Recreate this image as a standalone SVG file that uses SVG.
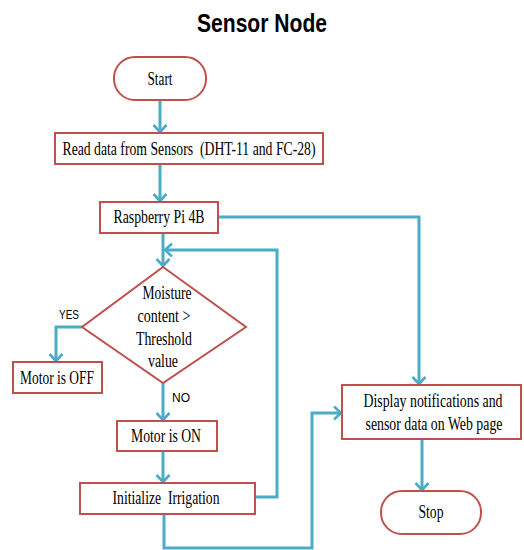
<svg xmlns="http://www.w3.org/2000/svg" width="524" height="550" viewBox="0 0 524 550">
<defs>
<marker id="arr" markerUnits="userSpaceOnUse" markerWidth="16" markerHeight="16" refX="9" refY="8" orient="auto">
<path d="M2,1.5 L9,8 L2,14.5" fill="none" stroke="#4bacc6" stroke-width="2.6"/>
</marker>
<style>
.box{fill:#fff;stroke:#c0504d;stroke-width:2}
.t{font-family:"Liberation Serif","Times New Roman",serif;font-size:18px;fill:#000;text-anchor:middle;white-space:pre}
.lbl{font-family:"Liberation Sans",Arial,sans-serif;font-size:13px;fill:#000}
.ca{fill:none;stroke:#4bacc6;stroke-width:3;marker-end:url(#arr)}
</style>
</defs>
<rect width="524" height="550" fill="#fff"/>
<text x="262" y="32" font-family="'Liberation Sans',Arial,sans-serif" font-weight="bold" font-size="25" text-anchor="middle" textLength="130" lengthAdjust="spacingAndGlyphs">Sensor Node</text>

<g id="connectors">
<path class="ca" d="M160,100 V132"/>
<path class="ca" d="M160,164 V201"/>
<path class="ca" d="M163,233 V266"/>
<path class="ca" d="M218,217 H419 V384"/>
<path class="ca" d="M255,497 H277 V250 H165"/>
<path class="ca" d="M82,327 H56 V361"/>
<path class="ca" d="M163,383 V420"/>
<path class="ca" d="M163,451 V482"/>
<path class="ca" d="M164,514 V548 H312 V413 H341"/>
<path class="ca" d="M422,439 V490"/>
</g>

<g id="start">
<rect class="box" x="114" y="57" width="92" height="43" rx="21" ry="21"/>
<text class="t" x="160" y="85" textLength="25" lengthAdjust="spacingAndGlyphs">Start</text>
</g>
<g id="read">
<rect class="box" x="55" y="133" width="268" height="31"/>
<text class="t" x="189" y="155" textLength="253" lengthAdjust="spacingAndGlyphs" xml:space="preserve">Read data from Sensors  (DHT-11 and FC-28)</text>
</g>
<g id="rasp">
<rect class="box" x="100" y="202" width="118" height="31"/>
<text class="t" x="159" y="223" textLength="91" lengthAdjust="spacingAndGlyphs">Raspberry Pi 4B</text>
</g>
<g id="decision">
<polygon class="box" points="163,267 246,327 163,383 82,327"/>
<text class="t" x="167" y="299" textLength="49" lengthAdjust="spacingAndGlyphs">Moisture</text>
<text class="t" x="164" y="322" textLength="53" lengthAdjust="spacingAndGlyphs">content &gt;</text>
<text class="t" x="164" y="345" textLength="56" lengthAdjust="spacingAndGlyphs">Threshold</text>
<text class="t" x="163" y="367" textLength="30" lengthAdjust="spacingAndGlyphs">value</text>
</g>
<text class="lbl" x="59" y="319" textLength="20" lengthAdjust="spacingAndGlyphs">YES</text>
<text class="lbl" x="172" y="402" textLength="18" lengthAdjust="spacingAndGlyphs">NO</text>
<g id="off">
<rect class="box" x="13" y="362" width="89" height="31"/>
<text class="t" x="57" y="384" textLength="74" lengthAdjust="spacingAndGlyphs">Motor is OFF</text>
</g>
<g id="on">
<rect class="box" x="117" y="421" width="100" height="30"/>
<text class="t" x="166" y="442" textLength="70" lengthAdjust="spacingAndGlyphs">Motor is ON</text>
</g>
<g id="init">
<rect class="box" x="80" y="483" width="175" height="31"/>
<text class="t" x="166" y="504" textLength="107" lengthAdjust="spacingAndGlyphs" xml:space="preserve">Initialize  Irrigation</text>
</g>
<g id="display">
<rect class="box" x="342" y="385" width="179" height="54"/>
<text class="t" x="433" y="407" font-size="17" textLength="139" lengthAdjust="spacingAndGlyphs">Display notifications and</text>
<text class="t" x="434" y="430" font-size="17" textLength="137" lengthAdjust="spacingAndGlyphs">sensor data on Web page</text>
</g>
<g id="stop">
<rect class="box" x="381" y="491" width="100" height="43" rx="21" ry="21"/>
<text class="t" x="431" y="518" textLength="25" lengthAdjust="spacingAndGlyphs">Stop</text>
</g>
</svg>
